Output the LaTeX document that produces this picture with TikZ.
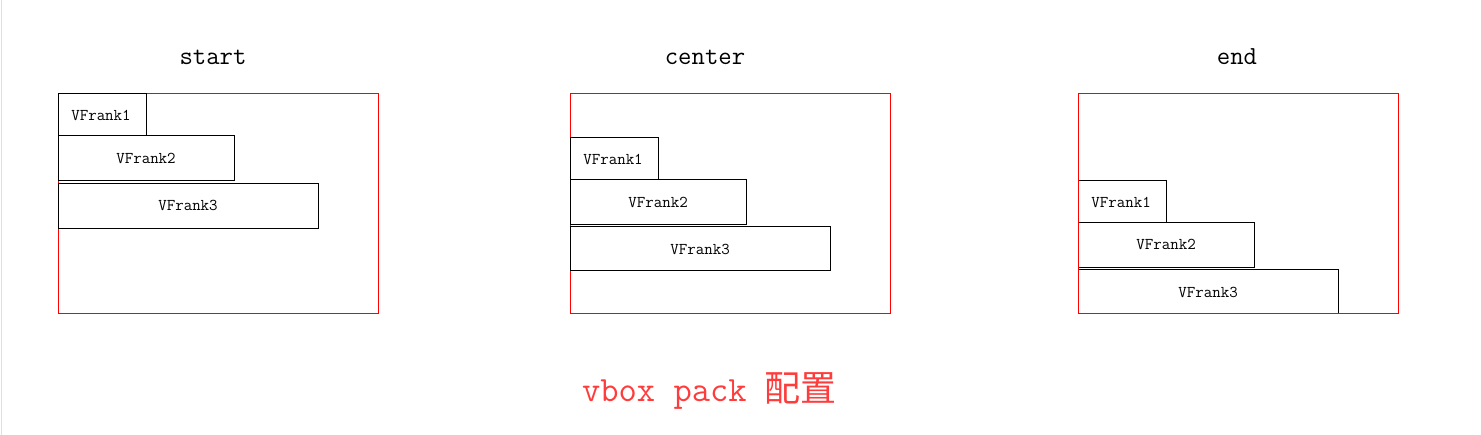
\documentclass[tikz,border=0pt]{standalone}
\usepackage{fontspec}
\newfontfamily\cjk{Noto Sans CJK SC}
\begin{document}
\begin{tikzpicture}[x=1pt,y=-1pt,
  panel/.style={draw=red,line width=1pt},
  item/.style={draw=black,line width=1pt},
  lbl/.style={font=\ttfamily\fontsize{16.5}{16.5}\selectfont,inner sep=0pt},
  ttl/.style={font=\ttfamily\fontsize{26}{26}\selectfont,inner sep=0pt}]
\useasboundingbox (0,0) rectangle (1481,435);
\draw[gray!25,line width=1pt] (1.5,0) -- (1.5,435);
% titles
\node[ttl] (t1) at (213,57) {start};
\node[ttl] (t2) at (705,57) {center};
\node[ttl] (t3) at (1237,57) {end};
% panel 1
\draw[panel] (58,94) rectangle (378,314);
\draw[item] (58,94) rectangle (146.5,136);
\node[lbl] (a1) at (101,115) {VFrank1};
\draw[item] (58,136) rectangle (234.5,181);
\node[lbl] (a2) at (146,158) {VFrank2};
\draw[item] (58,183.5) rectangle (318.5,228.5);
\node[lbl] (a3) at (188,205) {VFrank3};
% panel 2
\draw[panel] (570,94) rectangle (890,314);
\draw[item] (570,137.5) rectangle (658.5,180);
\node[lbl] (b1) at (613,159) {VFrank1};
\draw[item] (570,180) rectangle (746.5,224.5);
\node[lbl] (b2) at (658,202) {VFrank2};
\draw[item] (570,226.5) rectangle (830.5,271);
\node[lbl] (b3) at (700,249) {VFrank3};
% panel 3
\draw[item] (1078,180.5) rectangle (1166.5,222.5);
\node[lbl] (c1) at (1121,202) {VFrank1};
\draw[item] (1078,222.5) rectangle (1254.5,267.5);
\node[lbl] (c2) at (1166,244) {VFrank2};
\draw[item] (1078,269.5) rectangle (1338.5,314);
\node[lbl] (c3) at (1208,292) {VFrank3};
\draw[panel] (1078,94) rectangle (1398,314);
% caption
\node[font=\ttfamily\fontsize{35.5}{35.5}\selectfont,text={rgb,255:red,255;green,60;blue,60},inner sep=0pt] (cap) at (709.5,391) {vbox pack {\cjk\fontsize{36}{36}\selectfont 配置}};
\end{tikzpicture}
\end{document}
